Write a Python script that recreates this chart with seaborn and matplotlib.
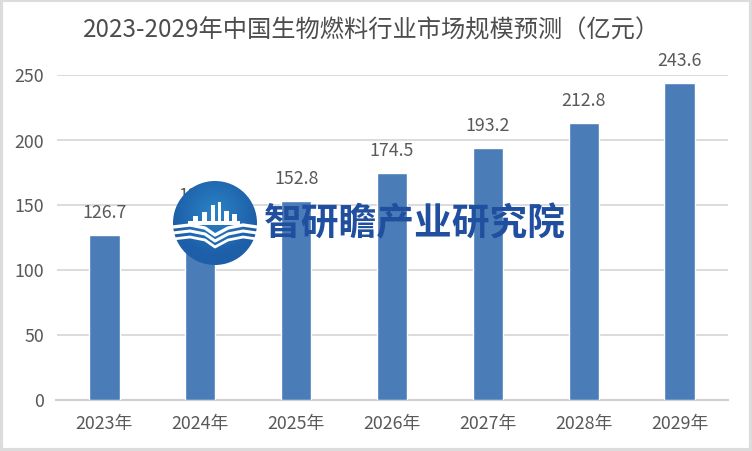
import matplotlib

matplotlib.use("Agg")
import matplotlib.pyplot as plt
import numpy as np
import pandas as pd
import seaborn as sns
from matplotlib.patches import Circle, Rectangle

# values; 2024 is mostly hidden by the logo, so estimated
years = ["2023年", "2024年", "2025年", "2026年", "2027年", "2028年", "2029年"]
market_size = [126.7, 139.9, 152.8, 174.5, 193.2, 212.8, 243.6]
y_ticks = [0, 50, 100, 150, 200, 250]

W, H = 752, 452
TEXT = "#595959"
BAR = "#4a7db8"
BLUE = "#1f4f9e"

sns.set_theme(style="whitegrid")
plt.rcParams["font.family"] = ["Noto Sans CJK SC", "DejaVu Sans"]

fig = plt.figure(figsize=(W / 100, H / 100), dpi=100, facecolor="white")
ax = fig.add_axes([56.5 / W, 1 - 400.5 / H, 671 / W, 325 / H], facecolor="white")

df = pd.DataFrame({"year": years, "size": market_size})
sns.barplot(data=df, x="year", y="size", color=BAR, saturation=1, width=0.315, ax=ax, zorder=3)

ax.set_ylim(0, 250)
ax.set_yticks(y_ticks)
ax.set_xlabel("")
ax.set_ylabel("")
ax.grid(axis="y", color="#d9d9d9", linewidth=1.3)
ax.grid(axis="x", visible=False)
sns.despine(ax=ax, left=True, right=True, top=True, bottom=False)
ax.spines["bottom"].set_color("#cfcfcf")
ax.spines["bottom"].set_linewidth(1.5)
ax.tick_params(axis="both", length=0, labelsize=12.8, labelcolor=TEXT)
ax.tick_params(axis="x", pad=10.5)
ax.tick_params(axis="y", pad=9)

for i, v in enumerate(market_size):
    ax.annotate(f"{v:.1f}", (i, v), xytext=(0, 10), textcoords="offset points",
                ha="center", va="bottom", fontsize=12.8, color=TEXT,
                annotation_clip=False, zorder=4)

fig.text(372 / W, 1 - 31 / H, "2023-2029年中国生物燃料行业市场规模预测（亿元）",
         ha="center", va="center", fontsize=17.45, color="#4d4d4d")

# overlay in pixel coordinates for the watermark and the page frame
ov = fig.add_axes([0, 0, 1, 1], facecolor="none")
ov.set_xlim(0, W)
ov.set_ylim(H, 0)
ov.axis("off")
ov.set_zorder(10)

# logo: blue disc with a lighter centre
gy, gx = np.mgrid[-1:1:120j, -1:1:120j]
shade = np.clip(np.hypot(gx, gy + 0.25), 0, 1)
cmap = matplotlib.colors.LinearSegmentedColormap.from_list("logo", ["#2b83c6", "#1d5fa8"])
disc = ov.imshow(shade, extent=(173, 257, 266, 182), cmap=cmap, zorder=1, aspect="auto")
disc.set_clip_path(Circle((215, 224), 42, transform=ov.transData))
ov.set_xlim(0, W)
ov.set_ylim(H, 0)

# skyline in the logo
for x0, top, w in [(193, 217, 5), (202, 213, 5), (211, 206, 4), (218, 203, 3),
                   (224, 212, 5), (232, 215, 5)]:
    ov.add_patch(Rectangle((x0, top), w, 226 - top, color="white", lw=0, zorder=2))
ov.add_patch(Rectangle((188, 222), 52, 4, color="white", lw=0, zorder=2))

# wave bands in the logo
wx = np.array([173, 190, 205, 215, 228, 243, 257])
for off, lw in [(0, 2.4), (6, 2.2), (12, 2.0)]:
    wy = np.array([228, 226, 229, 236, 229, 226, 228]) + off
    ov.plot(wx, wy, color="white", lw=lw, zorder=3, solid_capstyle="butt")

ov.text(415, 224, "智研瞻产业研究院", ha="center", va="center", fontsize=27.2,
        fontweight="bold", color=BLUE, zorder=4)

# light grey page frame
ov.add_patch(Rectangle((0.5, 0.5), W - 1.5, H - 1.5, fill=False, ec="#dcdcdc", lw=3, zorder=5))

fig.savefig("out.png", dpi=100)
